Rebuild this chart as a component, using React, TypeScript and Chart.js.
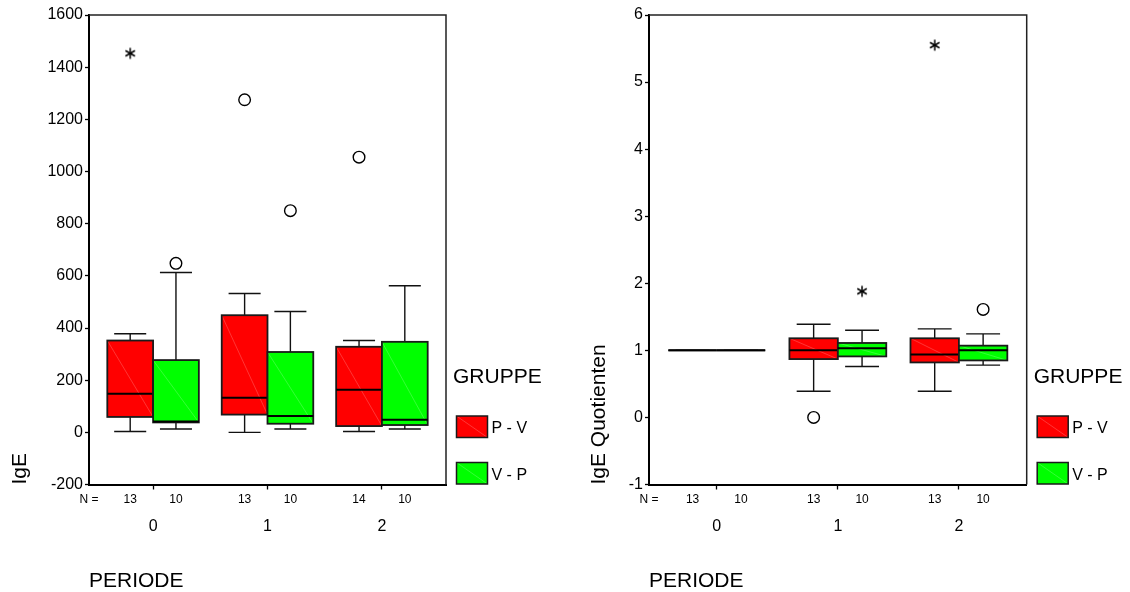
import React, { useEffect, useRef } from 'react';
import { Chart, registerables } from 'chart.js';

Chart.register(...registerables);

// ---------- data ----------
const periods = ['0', '1', '2'];
const groupNames = ['P - V', 'V - P'];
const groupColors = ['#ff0000', '#00ff00'];

// Panel 1: IgE
const igeTicks = [-200, 0, 200, 400, 600, 800, 1000, 1200, 1400, 1600];
const igePV_low = [3, 0, 3];
const igePV_q1 = [59, 68, 24];
const igePV_med = [148, 133, 163];
const igePV_q3 = [352, 449, 328];
const igePV_high = [378, 532, 352];
const igePV_n = [13, 13, 14];
const igePV_outliers = [[], [1275], [1055]];
const igePV_extremes = [[1453], [], []];

const igeVP_low = [13, 13, 13];
const igeVP_q1 = [38, 33, 28];
const igeVP_med = [42, 63, 48];
const igeVP_q3 = [277, 308, 347];
const igeVP_high = [613, 463, 562];
const igeVP_n = [10, 10, 10];
const igeVP_outliers = [[648], [850], []];
const igeVP_extremes = [[], [], []];

// Panel 2: IgE Quotienten
const quotTicks = [-1, 0, 1, 2, 3, 4, 5, 6];
const quotPV_low = [1, 0.39, 0.39];
const quotPV_q1 = [1, 0.87, 0.82];
const quotPV_med = [1, 1.0, 0.94];
const quotPV_q3 = [1, 1.18, 1.18];
const quotPV_high = [1, 1.39, 1.32];
const quotPV_n = [13, 13, 13];
const quotPV_outliers = [[], [0.0], []];
const quotPV_extremes = [[], [], [5.55]];

const quotVP_low = [1, 0.76, 0.78];
const quotVP_q1 = [1, 0.91, 0.85];
const quotVP_med = [1, 1.03, 1.0];
const quotVP_q3 = [1, 1.11, 1.07];
const quotVP_high = [1, 1.3, 1.245];
const quotVP_n = [10, 10, 10];
const quotVP_outliers = [[], [], [1.61]];
const quotVP_extremes = [[], [1.88], []];

// ---------- layout constants ----------
const FONT = '"Liberation Sans", Arial, Helvetica, sans-serif';
const GROUP_OFFSET = [-0.2, 0.2];
const BOX_HALF = 0.2;
const CAP_HALF = 0.14;
const X_MIN = -0.56;
const X_MAX = 2.56;

type Group = {
  name: string; color: string;
  low: number[]; q1: number[]; med: number[]; q3: number[]; high: number[];
  n: number[]; outliers: number[][]; extremes: number[][];
};

type Panel = {
  title: string; ticks: number[]; groups: Group[];
  yWidth: number; padRight: number; yTitlePad: number;
};

const panels: Panel[] = [
  {
    title: 'IgE', ticks: igeTicks, yWidth: 89, padRight: 119, yTitlePad: 8,
    groups: [
      { name: groupNames[0], color: groupColors[0], low: igePV_low, q1: igePV_q1, med: igePV_med, q3: igePV_q3, high: igePV_high, n: igePV_n, outliers: igePV_outliers, extremes: igePV_extremes },
      { name: groupNames[1], color: groupColors[1], low: igeVP_low, q1: igeVP_q1, med: igeVP_med, q3: igeVP_q3, high: igeVP_high, n: igeVP_n, outliers: igeVP_outliers, extremes: igeVP_extremes },
    ],
  },
  {
    title: 'IgE Quotienten', ticks: quotTicks, yWidth: 84, padRight: 103.3, yTitlePad: 22,
    groups: [
      { name: groupNames[0], color: groupColors[0], low: quotPV_low, q1: quotPV_q1, med: quotPV_med, q3: quotPV_q3, high: quotPV_high, n: quotPV_n, outliers: quotPV_outliers, extremes: quotPV_extremes },
      { name: groupNames[1], color: groupColors[1], low: quotVP_low, q1: quotVP_q1, med: quotVP_med, q3: quotVP_q3, high: quotVP_high, n: quotVP_n, outliers: quotVP_outliers, extremes: quotVP_extremes },
    ],
  },
];

function makeStar(): HTMLCanvasElement {
  const c = document.createElement('canvas');
  c.width = 14; c.height = 14;
  const g = c.getContext('2d')!;
  g.strokeStyle = '#000';
  g.lineWidth = 1.5;
  const cx = 7, cy = 7, r = 5.5;
  for (let k = 0; k < 3; k++) {
    const a = Math.PI / 2 + (k * Math.PI) / 3;
    g.beginPath();
    g.moveTo(cx + r * Math.cos(a), cy - r * Math.sin(a));
    g.lineTo(cx - r * Math.cos(a), cy + r * Math.sin(a));
    g.stroke();
  }
  return c;
}

function boxPlugin(panel: Panel) {
  return {
    id: 'spssBoxes',
    beforeDatasetsDraw(chart: any) {
      const { ctx, scales } = chart;
      const x = scales.x, y = scales.y;
      ctx.save();
      panel.groups.forEach((g, gi) => {
        periods.forEach((_p, pi) => {
          const c = pi + GROUP_OFFSET[gi];
          const xl = x.getPixelForValue(c - BOX_HALF);
          const xr = x.getPixelForValue(c + BOX_HALF);
          const xc = x.getPixelForValue(c);
          const cl = x.getPixelForValue(c - CAP_HALF);
          const cr = x.getPixelForValue(c + CAP_HALF);
          const yLow = y.getPixelForValue(g.low[pi]);
          const yQ1 = y.getPixelForValue(g.q1[pi]);
          const yMed = y.getPixelForValue(g.med[pi]);
          const yQ3 = y.getPixelForValue(g.q3[pi]);
          const yHigh = y.getPixelForValue(g.high[pi]);
          // whiskers + caps
          ctx.strokeStyle = '#111';
          ctx.lineWidth = 1.4;
          ctx.beginPath();
          ctx.moveTo(xc, yHigh); ctx.lineTo(xc, yQ3);
          ctx.moveTo(xc, yQ1); ctx.lineTo(xc, yLow);
          ctx.moveTo(cl, yHigh); ctx.lineTo(cr, yHigh);
          ctx.moveTo(cl, yLow); ctx.lineTo(cr, yLow);
          ctx.stroke();
          // box fill
          ctx.fillStyle = g.color;
          ctx.fillRect(xl, yQ3, xr - xl, yQ1 - yQ3);
          // pale diagonal hatch
          if (yQ1 - yQ3 > 2) {
            ctx.strokeStyle = 'rgba(255,255,255,0.3)';
            ctx.lineWidth = 0.7;
            ctx.beginPath();
            ctx.moveTo(xl, yQ3); ctx.lineTo(xr, yQ1);
            ctx.stroke();
          }
          // border
          ctx.strokeStyle = '#1a1a1a';
          ctx.lineWidth = 1.8;
          ctx.strokeRect(xl, yQ3, xr - xl, yQ1 - yQ3);
          // median
          ctx.lineWidth = 2;
          ctx.strokeStyle = '#000';
          ctx.beginPath();
          ctx.moveTo(xl, yMed); ctx.lineTo(xr, yMed);
          ctx.stroke();
        });
      });
      ctx.restore();
    },
    afterDraw(chart: any) {
      const { ctx, chartArea, scales } = chart;
      const x = scales.x;
      const { left, right, top, bottom } = chartArea;
      ctx.save();
      // top/right frame
      ctx.strokeStyle = '#222';
      ctx.lineWidth = 1.5;
      ctx.beginPath();
      ctx.moveTo(left, top); ctx.lineTo(right, top); ctx.lineTo(right, bottom);
      ctx.stroke();
      // N labels
      ctx.fillStyle = '#000';
      ctx.font = `12px ${FONT}`;
      ctx.textAlign = 'center';
      ctx.textBaseline = 'middle';
      const ny = bottom + 15.5;
      ctx.fillText('N =', left, ny);
      panel.groups.forEach((g, gi) => {
        periods.forEach((_p, pi) => {
          ctx.fillText(String(g.n[pi]), x.getPixelForValue(pi + GROUP_OFFSET[gi]), ny);
        });
      });
      // legend
      ctx.textAlign = 'left';
      ctx.font = `21px ${FONT}`;
      ctx.fillText('GRUPPE', right + 7, bottom - 107.5);
      const swTops = [bottom - 68.5, bottom - 22];
      panel.groups.forEach((g, gi) => {
        const sx = right + 10.5, sy = swTops[gi], sw = 31, sh = 21.5;
        ctx.fillStyle = g.color;
        ctx.fillRect(sx, sy, sw, sh);
        ctx.strokeStyle = 'rgba(255,255,255,0.3)';
        ctx.lineWidth = 0.7;
        ctx.beginPath();
        ctx.moveTo(sx, sy); ctx.lineTo(sx + sw, sy + sh);
        ctx.stroke();
        ctx.strokeStyle = '#1a1a1a';
        ctx.lineWidth = 1.5;
        ctx.strokeRect(sx, sy, sw, sh);
        ctx.fillStyle = '#000';
        ctx.font = `16px ${FONT}`;
        ctx.fillText(g.name, right + 45.5, sy + sh / 2 + 2);
      });
      ctx.restore();
    },
  };
}

function makeConfig(panel: Panel, star: HTMLCanvasElement): any {
  const datasets: any[] = [];
  panel.groups.forEach((g, gi) => {
    const circ: any[] = [];
    const ext: any[] = [];
    periods.forEach((_p, pi) => {
      g.outliers[pi].forEach((v) => circ.push({ x: pi + GROUP_OFFSET[gi], y: v }));
      g.extremes[pi].forEach((v) => ext.push({ x: pi + GROUP_OFFSET[gi], y: v }));
    });
    datasets.push({
      label: g.name + ' outliers', data: circ, pointStyle: 'circle', pointRadius: 5.8,
      borderColor: '#000', borderWidth: 1.4, backgroundColor: 'rgba(255,255,255,0)',
    });
    datasets.push({
      label: g.name + ' extremes', data: ext, pointStyle: star, pointRadius: 6,
      borderColor: '#000', backgroundColor: '#000',
    });
  });
  return {
    type: 'scatter',
    data: { datasets },
    options: {
      responsive: false,
      animation: false,
      events: [],
      layout: { padding: { left: 0, right: panel.padRight, top: 15, bottom: 0 } },
      plugins: { legend: { display: false }, tooltip: { enabled: false } },
      scales: {
        x: {
          type: 'linear', min: X_MIN, max: X_MAX,
          afterFit: (s: any) => { s.height = 107.5; },
          afterBuildTicks: (s: any) => { s.ticks = periods.map((_p, i) => ({ value: i })); },
          ticks: {
            callback: (v: any) => periods[Math.round(v)] ?? '',
            font: { size: 16, family: FONT }, color: '#000', padding: 27,
            maxRotation: 0, autoSkip: false,
          },
          grid: { drawOnChartArea: false, drawTicks: true, tickLength: 5, tickColor: '#000', tickWidth: 1.3 },
          border: { display: true, color: '#000', width: 2 },
          title: { display: true, text: 'PERIODE', align: 'start', color: '#000', font: { size: 21, family: FONT }, padding: { top: 0, bottom: -1.5 } },
        },
        y: {
          type: 'linear', min: panel.ticks[0], max: panel.ticks[panel.ticks.length - 1],
          afterFit: (s: any) => { s.width = panel.yWidth; },
          afterBuildTicks: (s: any) => { s.ticks = panel.ticks.map((v) => ({ value: v })); },
          ticks: { font: { size: 16, family: FONT }, color: '#000', padding: 2, callback: (v: any) => String(v) },
          grid: { drawOnChartArea: false, drawTicks: true, tickLength: 4, tickColor: '#000', tickWidth: 1.3 },
          border: { display: true, color: '#000', width: 2 },
          title: { display: true, text: panel.title, align: 'start', color: '#000', font: { size: 21, family: FONT }, padding: { top: panel.yTitlePad, bottom: 0 } },
        },
      },
    },
    plugins: [boxPlugin(panel)],
  };
}

export default function App() {
  const ref1 = useRef<HTMLCanvasElement | null>(null);
  const ref2 = useRef<HTMLCanvasElement | null>(null);

  useEffect(() => {
    const star = makeStar();
    const charts: Chart[] = [];
    [ref1.current, ref2.current].forEach((cv, i) => {
      if (!cv) return;
      charts.push(new Chart(cv, makeConfig(panels[i], star)));
    });
    return () => charts.forEach((c) => c.destroy());
  }, []);

  return (
    <div style={{ position: 'absolute', left: 0, top: 0, width: 1130, height: 592, background: '#fff', display: 'flex' }}>
      <canvas ref={ref1} width={565} height={592} style={{ width: 565, height: 592, display: 'block' }} />
      <canvas ref={ref2} width={565} height={592} style={{ width: 565, height: 592, display: 'block' }} />
    </div>
  );
}
